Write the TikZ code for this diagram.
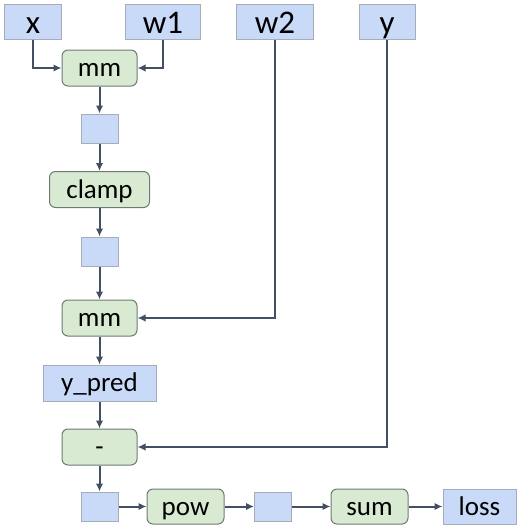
\documentclass[tikz,border=0pt]{standalone}
\usepackage{fontspec}
\setmainfont{Carlito}
\usepackage{xcolor}
\usepackage{tikz}
\usetikzlibrary{shapes,arrows.meta}
\definecolor{tensorblue}{HTML}{C9DAF8}
\definecolor{tensorline}{HTML}{A7ADB8}
\definecolor{opgreen}{HTML}{D9EAD3}
\definecolor{opline}{HTML}{6F7A73}
\definecolor{arrowgray}{HTML}{434F62}
\tikzstyle{tensor} = [rectangle, draw=tensorline, line width=1pt, fill=tensorblue, inner sep=0pt, minimum height=35pt, text height=22pt, text depth=4.6pt, font=\fontsize{27}{32}\selectfont]
\tikzstyle{input} = [tensor, text height=28pt, text depth=4.4pt, font=\fontsize{33}{38}\selectfont]
\tikzstyle{blank} = [tensor, minimum width=37pt, minimum height=29pt, text height=0pt, text depth=0pt]
\tikzstyle{op} = [rectangle, draw=opline, line width=1pt, fill=opgreen, rounded corners=6pt, inner sep=0pt, minimum width=75pt, minimum height=36pt, text height=22pt, text depth=4.6pt, font=\fontsize{27}{32}\selectfont]
\tikzstyle{line} = [draw=arrowgray, line width=2pt, -{Latex[length=8pt,width=7.5pt]}]

\begin{document}
\begin{tikzpicture}[x=1pt, y=-1pt]
        \useasboundingbox (0,0) rectangle (531,531);
        % Place nodes
        \node [input, minimum width=57pt] (x) at (33,21.5) {x};
        \node [input, minimum width=75pt] (w1) at (163,21.5) {w1};
        \node [input, minimum width=77pt] (w2) at (275,21.5) {w2};
        \node [input, minimum width=56pt] (y) at (387,21.5) {y};

        \node [op] (mm1) at (99.5,68) {mm};
        \node [blank] (h1) at (99.5,128.5) {};
        \node [op, minimum width=100pt] (clamp) at (99.5,189.5) {clamp};
        \node [blank] (h2) at (99.5,251.5) {};
        \node [op] (mm2) at (99.5,318) {mm};
        \node [tensor, minimum width=113pt, minimum height=36pt] (ypred) at (99.5,383) {y\_pred};
        \node [op] (minus) at (99.5,447) {-};
        \node [blank] (h3) at (99.5,506.5) {};
        \node [op, minimum width=77pt, minimum height=35pt] (pow) at (185.5,506.5) {pow};
        \node [blank] (h4) at (273,506.5) {};
        \node [op, minimum width=77pt, minimum height=35pt] (sum) at (369.5,506.5) {sum};
        \node [tensor, minimum width=73pt] (loss) at (479.5,506.5) {loss};

        % Draw edges
        \path [line] (x) |- (mm1);
        \path [line] (w1) |- (mm1);
        \path [line] (w2) |- (mm2);
        \path [line] (y) |- (minus);
        \path [line] (mm1) -- (h1);
        \path [line] (h1) -- (clamp);
        \path [line] (clamp) -- (h2);
        \path [line] (h2) -- (mm2);
        \path [line] (mm2) -- (ypred);
        \path [line] (ypred) -- (minus);
        \path [line] (minus) -- (h3);
        \path [line] (h3) -- (pow);
        \path [line] (pow) -- (h4);
        \path [line] (h4) -- (sum);
        \path [line] (sum) -- (loss);
    \end{tikzpicture}
\end{document}
